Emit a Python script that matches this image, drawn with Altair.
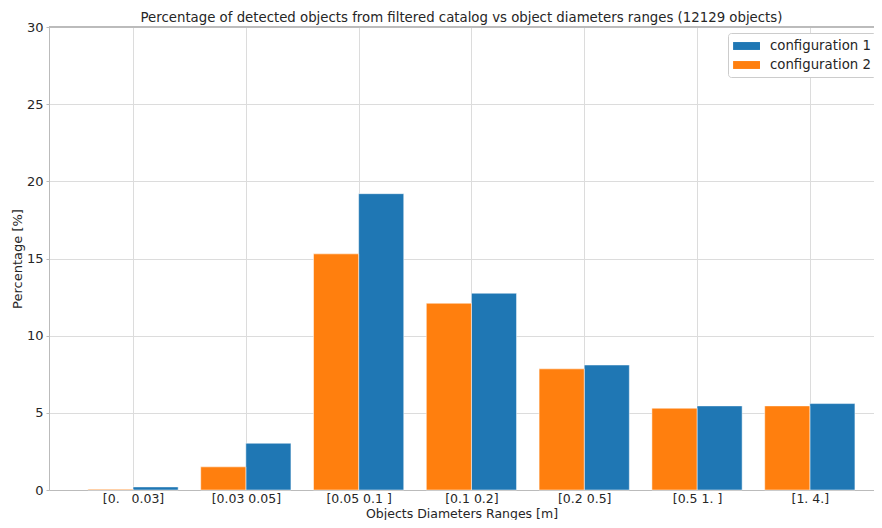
import altair as alt
import pandas as pd

labels = ["[0.\u00a0\u00a0\u00a00.03]", "[0.03\u00a00.05]", "[0.05\u00a00.1\u00a0]", "[0.1\u00a00.2]",
          "[0.2\u00a00.5]", "[0.5\u00a01.\u00a0]", "[1.\u00a04.]"]
config1 = [0.2, 3.03, 19.2, 12.75, 8.1, 5.45, 5.6]
config2 = [0.05, 1.5, 15.3, 12.1, 7.85, 5.3, 5.45]

rows = []
for i, lab in enumerate(labels):
    rows.append({"idx": i, "label": lab, "config": "configuration 1", "value": config1[i]})
    rows.append({"idx": i, "label": lab, "config": "configuration 2", "value": config2[i]})
df = pd.DataFrame(rows)

label_js = "[" + ",".join("'" + l + "'" for l in labels) + "]"
TXT = "#262626"
FONT = "DejaVu Sans"

xscale = alt.Scale(domain=[-0.745, 6.569], nice=False, zero=False, padding=0)
yscale = alt.Scale(domain=[0, 30], nice=False, padding=0)

bars = alt.Chart(df).transform_calculate(
    x0="datum.idx + (datum.config == 'configuration 1' ? 0 : -0.4)",
    x1="datum.idx + (datum.config == 'configuration 1' ? 0.4 : 0)",
).mark_bar(stroke="white", strokeWidth=0.5, orient="vertical").encode(
    x=alt.X("x0:Q", scale=xscale,
            axis=alt.Axis(values=list(range(7)), labelExpr=label_js + "[datum.value]",
                          title="Objects Diameters Ranges [m]", grid=True, gridColor="#dcdcdc",
                          domain=True, domainColor="#bbbbbb", ticks=False, tickSize=0,
                          labelFontSize=12.5, titleFontSize=12.5, titleFontWeight="normal",
                          labelColor=TXT, titleColor=TXT, labelPadding=2,
                          titleBaseline="alphabetic", titleY=27,
                          labelFont=FONT, titleFont=FONT)),
    x2="x1:Q",
    y=alt.Y("value:Q", scale=yscale,
            axis=alt.Axis(values=[0, 5, 10, 15, 20, 25, 30], title="Percentage [%]", grid=True,
                          gridColor="#dcdcdc", domain=True, domainColor="#bbbbbb",
                          tickColor="#bbbbbb", tickSize=3,
                          labelFontSize=13, titleFontSize=13, titleFontWeight="normal",
                          labelColor=TXT, titleColor=TXT, titlePadding=2, labelPadding=3,
                          labelFont=FONT, titleFont=FONT)),
    y2=alt.datum(0),
    color=alt.Color("config:N",
                    scale=alt.Scale(domain=["configuration 1", "configuration 2"],
                                    range=["#1f77b4", "#ff7f0e"]),
                    legend=alt.Legend(title=None, orient="none", legendX=679, legendY=6,
                                      fillColor="white", strokeColor="#cccccc", padding=5,
                                      cornerRadius=3, labelFontSize=13.3, labelFont=FONT,
                                      labelColor=TXT, symbolType="M-1,-0.5H2.4V0.5H-1Z",
                                      symbolSize=250, symbolStrokeWidth=0, labelOffset=21,
                                      rowPadding=4)),
)

top = alt.Chart(df).mark_rule(color="#bbbbbb", strokeWidth=1).encode(
    y=alt.datum(30)
)

chart = alt.layer(bars, top).properties(
    width=825, height=463,
    title=alt.TitleParams("Percentage of detected objects from filtered catalog vs object diameters ranges (12129 objects)",
                          fontSize=13.3, fontWeight="normal", font=FONT, color=TXT, offset=-3),
    padding={"left": 41, "top": 19, "right": 0, "bottom": 30},
    autosize=alt.AutoSizeParams(type="none"),
).configure_view(stroke=None)

chart.save("out.html", embed_options={"renderer": "svg", "actions": False})
